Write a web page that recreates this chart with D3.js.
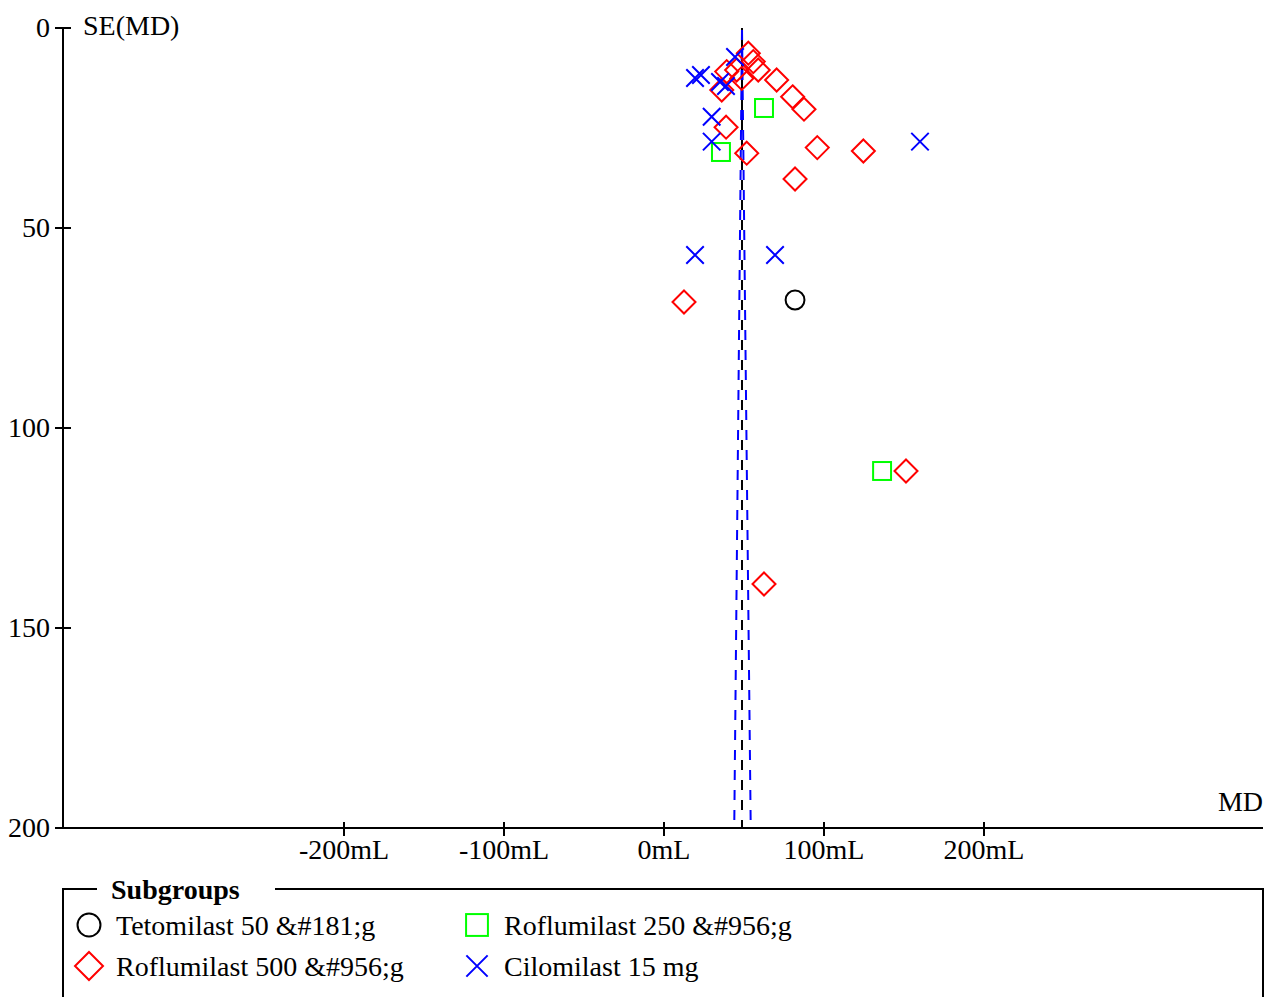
<!DOCTYPE html>
<html>
<head>
<meta charset="utf-8">
<script src="https://cdn.jsdelivr.net/npm/d3@7"></script>
<style>
  html, body { margin: 0; padding: 0; background: #fff; }
  svg text { font-family: "Liberation Serif", "Times New Roman", serif; fill: #000; }
</style>
</head>
<body>
<svg id="chart" width="1267" height="997"></svg>
<script>
// Funnel plot: mean difference (MD, mL) against its standard error, by subgroup.
const xTicks = [-200, -100, 0, 100, 200];
const yTicks = [0, 50, 100, 150, 200];
const xTickFormat = d => d + "mL";

const subgroupNames = ["Tetomilast 50 &#181;g", "Roflumilast 250 &#956;g", "Roflumilast 500 &#956;g", "Cilomilast 15 mg"];
const subgroupColors = ["#000000", "#00ff00", "#ff0000", "#0000ff"];
const subgroupSymbols = ["circle", "square", "diamond", "cross"];

// Study estimates: [MD, SE(MD)]
const tetomilast50 = [[81.9, 68.0]];
const roflumilast250 = [[62.5, 20.0], [35.6, 31.0], [136.3, 110.75]];
const roflumilast500 = [
  [52.7, 6.3], [55.8, 8.4], [58.9, 10.5], [39.2, 10.9], [45.4, 10.5], [48.6, 12.6],
  [36.1, 15.5], [70.4, 13.0], [80.4, 17.2], [87.5, 20.3], [38.8, 24.8], [51.7, 31.3],
  [95.8, 29.9], [124.6, 30.75], [81.9, 37.75], [12.5, 68.5], [151.25, 110.75], [62.5, 139.0]
];
const cilomilast15 = [
  [19.4, 12.5], [23.1, 11.75], [35.0, 13.5], [38.75, 14.5], [44.4, 7.25],
  [29.8, 22.2], [29.8, 28.4], [160.0, 28.4], [19.4, 56.75], [69.4, 56.75]
];
const subgroupData = [tetomilast50, roflumilast250, roflumilast500, cilomilast15];

// Pooled estimate and the funnel limits at the bottom of the SE axis
const pooledMD = 48.75;
const funnelLeft = [[48.75, 0], [43.9, 200]];
const funnelRight = [[48.75, 0], [54.2, 200]];

const FS = 28;
const svg = d3.select("#chart");
const x = d3.scaleLinear().domain([-375.625, 374.375]).range([63, 1263]);
const y = d3.scaleLinear().domain([0, 200]).range([28, 828]);

// Reference lines
svg.append("line")
  .attr("x1", x(pooledMD)).attr("x2", x(pooledMD))
  .attr("y1", y(0)).attr("y2", y(200))
  .attr("stroke", "#000").attr("stroke-width", 2)
  .attr("stroke-dasharray", "10,10").attr("stroke-dashoffset", 8);

const line = d3.line().x(d => x(d[0])).y(d => y(d[1]));
[funnelLeft, funnelRight].forEach(f => {
  svg.append("path").attr("d", line(f))
    .attr("fill", "none").attr("stroke", "#0000ff").attr("stroke-width", 2)
    .attr("stroke-dasharray", "10,10").attr("stroke-dashoffset", 18);
});

// Axes
const axisG = svg.append("g").attr("stroke", "#000").attr("stroke-width", 2);
axisG.append("line").attr("x1", x.range()[0]).attr("x2", x.range()[1])
  .attr("y1", y(200)).attr("y2", y(200));
axisG.append("line").attr("x1", x.range()[0]).attr("x2", x.range()[0])
  .attr("y1", y(0)).attr("y2", y(200));

xTicks.forEach(t => {
  axisG.append("line").attr("x1", x(t)).attr("x2", x(t))
    .attr("y1", y(200) - 6).attr("y2", y(200) + 8);
  svg.append("text").attr("x", x(t)).attr("y", y(200) + 31)
    .attr("text-anchor", "middle").attr("font-size", FS).text(xTickFormat(t));
});
// pooled estimate marker on the MD axis
axisG.append("line").attr("x1", x(pooledMD)).attr("x2", x(pooledMD))
  .attr("y1", y(200) - 8).attr("y2", y(200));

yTicks.forEach(t => {
  axisG.append("line").attr("x1", x.range()[0] - 8).attr("x2", x.range()[0] + 8)
    .attr("y1", y(t)).attr("y2", y(t));
  svg.append("text").attr("x", 50).attr("y", y(t) + 9)
    .attr("text-anchor", "end").attr("font-size", FS).text(t);
});

svg.append("text").attr("x", 83).attr("y", 35).attr("font-size", FS).text("SE(MD)");
svg.append("text").attr("x", 1263).attr("y", 811).attr("text-anchor", "end")
  .attr("font-size", FS).text("MD");

// Marker drawing
function drawSymbol(g, kind, cx, cy, s, color) {
  if (kind === "circle") {
    g.append("circle").attr("cx", cx).attr("cy", cy).attr("r", s * 0.82)
      .attr("fill", "none").attr("stroke", color).attr("stroke-width", 2);
  } else if (kind === "square") {
    const h = s * 0.78;
    g.append("rect").attr("x", cx - h).attr("y", cy - h).attr("width", 2 * h).attr("height", 2 * h)
      .attr("fill", "none").attr("stroke", color).attr("stroke-width", 2);
  } else if (kind === "diamond") {
    const h = s;
    g.append("path").attr("d", `M${cx},${cy - h}L${cx + h},${cy}L${cx},${cy + h}L${cx - h},${cy}Z`)
      .attr("fill", "none").attr("stroke", color).attr("stroke-width", 2);
  } else if (kind === "cross") {
    const h = s * 0.76;
    g.append("path").attr("d", `M${cx - h},${cy - h}L${cx + h},${cy + h}M${cx - h},${cy + h}L${cx + h},${cy - h}`)
      .attr("fill", "none").attr("stroke", color).attr("stroke-width", 2);
  }
}

const marks = svg.append("g");
subgroupData.forEach((pts, i) => {
  pts.forEach(p => drawSymbol(marks, subgroupSymbols[i], x(p[0]), y(p[1]), 11.5, subgroupColors[i]));
});

// Legend
const lg = svg.append("g");
lg.append("path")
  .attr("d", "M97,889H63V1000M275,889H1263V1000")
  .attr("fill", "none").attr("stroke", "#000").attr("stroke-width", 2);
lg.append("text").attr("x", 111).attr("y", 899).attr("font-size", FS)
  .attr("font-weight", "bold").text("Subgroups");

const legendOrder = [0, 1, 2, 3];
const legendPos = [[89, 925], [477, 925], [89, 966], [477, 966]];
legendOrder.forEach((gi, k) => {
  const [lx, ly] = legendPos[k];
  drawSymbol(lg, subgroupSymbols[gi], lx, ly, 14, subgroupColors[gi]);
  lg.append("text").attr("x", lx + 27).attr("y", ly + 10).attr("font-size", FS)
    .text(subgroupNames[gi]);
});
</script>
</body>
</html>
